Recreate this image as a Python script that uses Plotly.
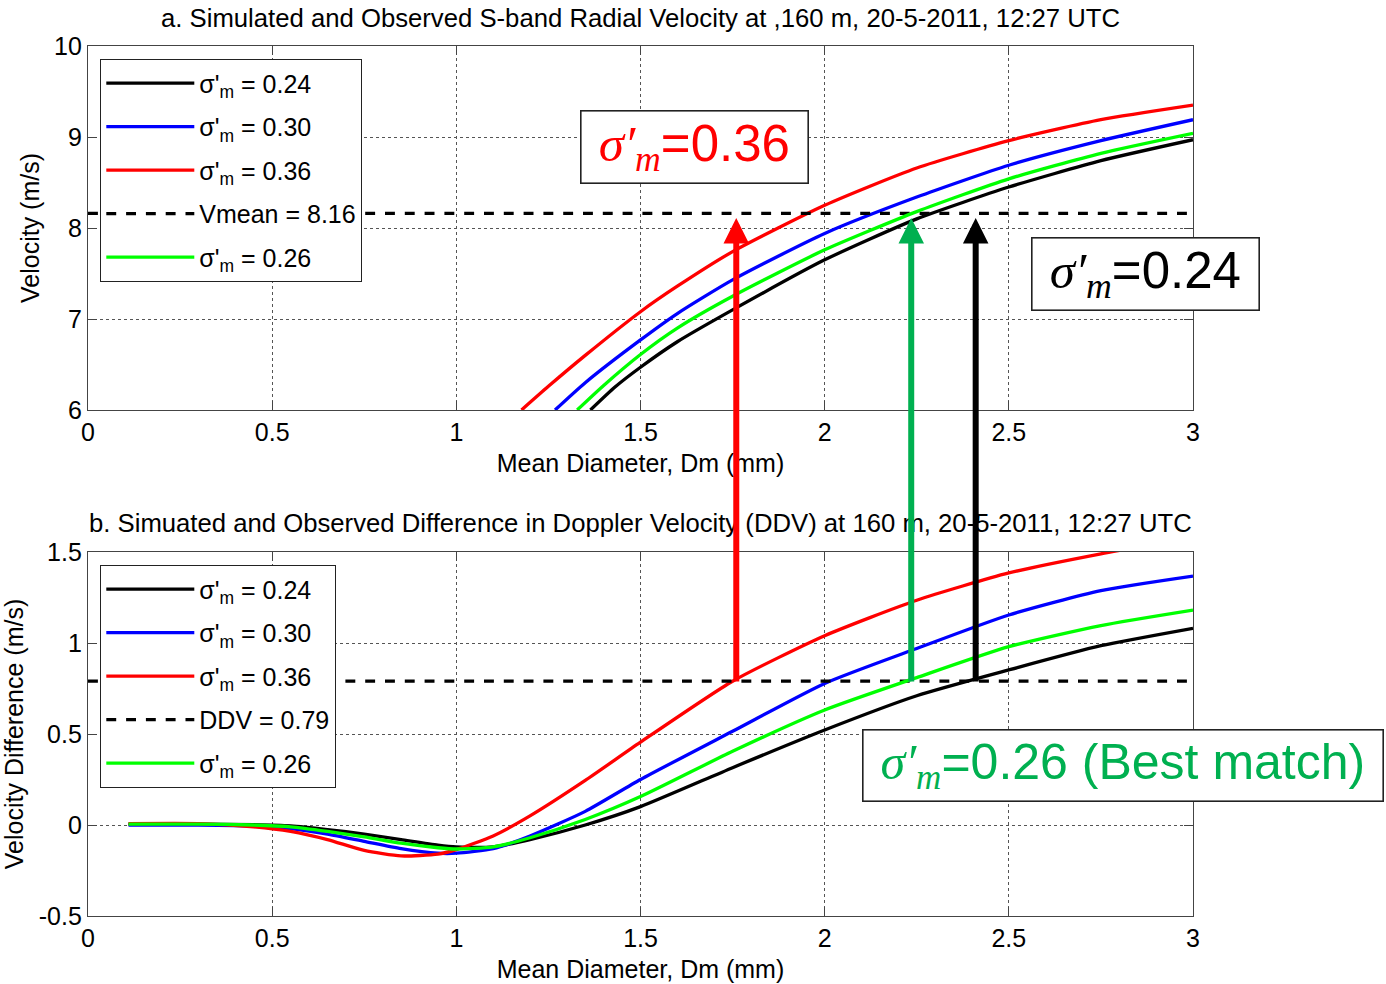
import plotly.graph_objects as go

# ---------------- data: panel a (radial velocity, m/s) ----------------
D_a_024 = [1.364, 1.43, 1.5, 1.6, 1.75, 2.0, 2.25, 2.5, 2.75, 3.0]
V_a_024 = [6.0, 6.25, 6.47, 6.75, 7.1, 7.65, 8.1, 8.45, 8.74, 8.97]
D_a_030 = [1.268, 1.35, 1.5, 1.6, 1.75, 2.0, 2.25, 2.5, 2.75, 3.0]
V_a_030 = [6.0, 6.3, 6.77, 7.06, 7.43, 7.94, 8.34, 8.69, 8.96, 9.19]
D_a_036 = [1.177, 1.25, 1.35, 1.5, 1.6, 1.75, 2.0, 2.25, 2.5, 2.75, 3.0]
V_a_036 = [6.0, 6.26, 6.6, 7.08, 7.36, 7.74, 8.25, 8.66, 8.96, 9.19, 9.35]
D_a_026 = [1.328, 1.4, 1.5, 1.6, 1.75, 2.0, 2.25, 2.5, 2.75, 3.0]
V_a_026 = [6.0, 6.27, 6.61, 6.9, 7.25, 7.76, 8.18, 8.54, 8.82, 9.04]
VMEAN = 8.16

# ---------------- data: panel b (DDV, m/s) ----------------
D_b = [0.11, 0.3, 0.45, 0.55, 0.65, 0.75, 0.85, 0.95, 1.0, 1.1, 1.2, 1.35,
       1.5, 1.75, 2.0, 2.25, 2.5, 2.75, 3.0]
B_024 = [0.005, 0.005, 0.002, -0.005, -0.025, -0.05, -0.08, -0.11, -0.12, -0.12,
         -0.08, 0.0, 0.101, 0.315, 0.522, 0.71, 0.852, 0.985, 1.081]
B_030 = [0.0, 0.0, -0.005, -0.02, -0.05, -0.09, -0.13, -0.155, -0.155, -0.13,
         -0.06, 0.075, 0.25, 0.515, 0.778, 0.97, 1.154, 1.288, 1.368]
B_036 = [0.008, 0.008, -0.01, -0.035, -0.08, -0.14, -0.17, -0.16, -0.135, -0.06,
         0.05, 0.245, 0.455, 0.79, 1.04, 1.235, 1.385, 1.49, 1.58]
B_026 = [0.005, 0.005, 0.0, -0.01, -0.035, -0.065, -0.1, -0.125, -0.132, -0.12,
         -0.07, 0.03, 0.156, 0.405, 0.632, 0.81, 0.98, 1.096, 1.181]
DDV = 0.79

X_RANGE = [0, 3]
X_TICKS = [0, 0.5, 1, 1.5, 2, 2.5, 3]
X_TICKTEXT = ["0", "0.5", "1", "1.5", "2", "2.5", "3"]
YA_TICKS = [6, 7, 8, 9, 10]
YB_TICKS = [-0.5, 0, 0.5, 1, 1.5]
YB_TICKTEXT = ["-0.5", "0", "0.5", "1", "1.5"]

# best-match intersections (Dm, mm) marked with arrows
ARROWS = [(1.76, "#FF0000"), (2.235, "#00B050"), (2.41, "#000000")]

FONT = "Liberation Sans, Arial, sans-serif"
FS = 25
LW = 3.3

fig = go.Figure()

def lab(v):
    return "σ'<sub>m</sub> = " + v

SPL = dict(shape="spline", smoothing=0.6)

series_a = [
    (D_a_024, V_a_024, "#000000", "0.24"),
    (D_a_030, V_a_030, "#0000FF", "0.30"),
    (D_a_036, V_a_036, "#FF0000", "0.36"),
]
for i, (d, v, c, s) in enumerate(series_a):
    fig.add_trace(go.Scatter(x=d, y=v, mode="lines",
                             line=dict(color=c, width=LW, **SPL),
                             name=lab(s), legend="legend", legendgroup="a%d" % i,
                             xaxis="x", yaxis="y"))
fig.add_trace(go.Scatter(x=X_RANGE, y=[VMEAN, VMEAN], mode="lines",
                         line=dict(color="black", width=LW, dash="dash"),
                         name="Vmean = 8.16", legend="legend", legendgroup="a3",
                         xaxis="x", yaxis="y"))
fig.add_trace(go.Scatter(x=D_a_026, y=V_a_026, mode="lines",
                         line=dict(color="#00FF00", width=LW, **SPL),
                         name=lab("0.26"), legend="legend", legendgroup="a4",
                         xaxis="x", yaxis="y"))

series_b = [
    (B_024, "#000000", "0.24"),
    (B_030, "#0000FF", "0.30"),
    (B_036, "#FF0000", "0.36"),
]
for i, (v, c, s) in enumerate(series_b):
    fig.add_trace(go.Scatter(x=D_b, y=v, mode="lines",
                             line=dict(color=c, width=LW, **SPL),
                             name=lab(s), legend="legend2", legendgroup="b%d" % i,
                             xaxis="x2", yaxis="y2"))
fig.add_trace(go.Scatter(x=X_RANGE, y=[DDV, DDV], mode="lines",
                         line=dict(color="black", width=LW, dash="dash"),
                         name="DDV = 0.79", legend="legend2", legendgroup="b3",
                         xaxis="x2", yaxis="y2"))
fig.add_trace(go.Scatter(x=D_b, y=B_026, mode="lines",
                         line=dict(color="#00FF00", width=LW, **SPL),
                         name=lab("0.26"), legend="legend2", legendgroup="b4",
                         xaxis="x2", yaxis="y2"))

W, H = 1386, 984
xdom = [88 / W, 1193 / W]
ydom_a = [1 - 410 / H, 1 - 46 / H]
ydom_b = [1 - 916 / H, 1 - 552 / H]

axcommon = dict(showline=True, linecolor="#444", linewidth=1.3, mirror="ticks",
                ticks="inside", ticklen=9, tickcolor="#444", tickwidth=1.3,
                showgrid=True, gridcolor="#555", griddash="dot", gridwidth=1,
                zeroline=False, automargin=False,
                tickfont=dict(family=FONT, size=FS, color="black"))

legcommon = dict(x=100 / W, xanchor="left", yanchor="top", bgcolor="white",
                 bordercolor="#222", borderwidth=1.3, font=dict(family=FONT, size=FS),
                 tracegroupgap=8, traceorder="grouped", itemwidth=88)

fig.update_layout(
    width=W, height=H,
    margin=dict(l=0, r=0, t=0, b=0, autoexpand=False),
    paper_bgcolor="white", plot_bgcolor="white",
    font=dict(family=FONT, size=FS, color="black"),
    xaxis=dict(domain=xdom, anchor="y", range=X_RANGE, tickvals=X_TICKS,
               ticktext=X_TICKTEXT,
               title=dict(text="Mean Diameter, Dm (mm)", standoff=9,
                          font=dict(family=FONT, size=FS)), **axcommon),
    yaxis=dict(domain=ydom_a, anchor="x", range=[6, 10], tickvals=YA_TICKS,
               title=dict(text="Velocity (m/s)", standoff=7,
                          font=dict(family=FONT, size=FS)), **axcommon),
    xaxis2=dict(domain=xdom, anchor="y2", range=X_RANGE, tickvals=X_TICKS,
                ticktext=X_TICKTEXT,
                title=dict(text="Mean Diameter, Dm (mm)", standoff=9,
                           font=dict(family=FONT, size=FS)), **axcommon),
    yaxis2=dict(domain=ydom_b, anchor="x2", range=[-0.5, 1.5], tickvals=YB_TICKS,
                ticktext=YB_TICKTEXT,
                title=dict(text="Velocity Difference (m/s)", standoff=12,
                           font=dict(family=FONT, size=FS)), **axcommon),
    legend=dict(y=1 - 59 / H, **legcommon),
    legend2=dict(y=1 - 565 / H, **legcommon),
    showlegend=True,
)

ann = []
ann.append(dict(text="a. Simulated and Observed S-band Radial Velocity at ,160 m, 20-5-2011, 12:27 UTC",
                xref="paper", yref="paper", x=640.5 / W, y=1 - 18 / H,
                xanchor="center", yanchor="middle", showarrow=False,
                font=dict(family=FONT, size=25.7)))
ann.append(dict(text="b. Simuated and Observed Difference in Doppler Velocity (DDV) at 160 m, 20-5-2011, 12:27 UTC",
                xref="paper", yref="paper", x=640.5 / W, y=1 - 523 / H,
                xanchor="center", yanchor="middle", showarrow=False,
                font=dict(family=FONT, size=25.7)))

for d, c in ARROWS:
    ann.append(dict(text="", xref="x", yref="y", x=d, y=VMEAN - 0.05,
                    axref="pixel", ayref="pixel", ax=0, ay=465,
                    showarrow=True, arrowhead=2, arrowsize=0.85, arrowwidth=6,
                    arrowcolor=c, standoff=0, startstandoff=0))

NB = "\u00a0"

def boxtext(val, extra=""):
    return (NB + "<span style=\"font-family:'Liberation Serif'\"><i>σ′</i><sub><i>m</i></sub></span>"
            + "=" + val + extra + NB)

box = dict(xref="paper", yref="paper", showarrow=False, bgcolor="white",
           bordercolor="#222", borderwidth=1.6, borderpad=3, yanchor="middle")
ann.append(dict(text=boxtext("0.36"), x=694.5 / W, y=1 - 146.5 / H, xanchor="center",
                font=dict(family=FONT, size=51, color="#FF0000"), **box))
ann.append(dict(text=boxtext("0.24"), x=1145.5 / W, y=1 - 274 / H, xanchor="center",
                font=dict(family=FONT, size=51, color="black"), **box))
ann.append(dict(text=boxtext("0.26", " (Best match)"), x=862 / W, y=1 - 765.5 / H,
                xanchor="left", font=dict(family=FONT, size=50, color="#00B050"), **box))

fig.update_layout(annotations=ann)

fig.write_html("out.html")
